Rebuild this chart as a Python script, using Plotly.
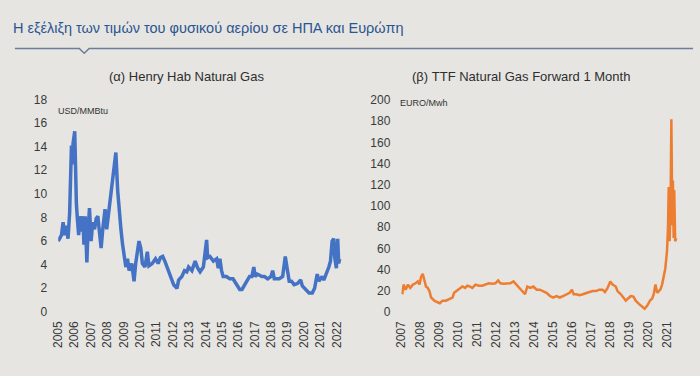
import plotly.graph_objects as go

# ---------------- data (decimal-year positions on the chart's year axis) ----------------
hh_x = [2005.00, 2005.20, 2005.30, 2005.40, 2005.50, 2005.60, 2005.70, 2005.77, 2005.81, 2005.87,
        2005.91, 2006.01, 2006.05, 2006.11, 2006.17, 2006.25, 2006.31, 2006.41, 2006.51, 2006.57,
        2006.65, 2006.75, 2006.81, 2006.91, 2007.01, 2007.11, 2007.22, 2007.32, 2007.42, 2007.52,
        2007.62, 2007.72, 2007.86, 2007.96, 2008.12, 2008.28, 2008.42, 2008.52, 2008.63, 2008.73,
        2008.83, 2008.93, 2009.03, 2009.13, 2009.23, 2009.33, 2009.49, 2009.63, 2009.73, 2009.83,
        2009.93, 2010.04, 2010.14, 2010.30, 2010.44, 2010.54, 2010.74, 2010.94, 2011.10, 2011.24,
        2011.38, 2011.51, 2011.65, 2011.85, 2012.05, 2012.25, 2012.35, 2012.55, 2012.71, 2012.85,
        2012.96, 2013.16, 2013.36, 2013.52, 2013.66, 2013.86, 2014.06, 2014.12, 2014.26, 2014.47,
        2014.67, 2014.77, 2014.87, 2014.97, 2015.07, 2015.27, 2015.47, 2015.67, 2015.88, 2016.08,
        2016.22, 2016.38, 2016.54, 2016.68, 2016.82, 2016.94, 2017.02, 2017.15, 2017.29, 2017.43,
        2017.59, 2017.79, 2017.99, 2018.09, 2018.19, 2018.35, 2018.49, 2018.70, 2018.86, 2018.96,
        2019.10, 2019.24, 2019.40, 2019.60, 2019.80, 2019.90, 2020.11, 2020.31, 2020.51, 2020.65,
        2020.81, 2020.91, 2021.01, 2021.11, 2021.21, 2021.37, 2021.52, 2021.62, 2021.72, 2021.82,
        2021.88, 2021.98, 2022.06, 2022.12, 2022.18]
hh_y = [6.0, 6.5, 7.6, 6.5, 7.3, 6.2, 8.4, 11.1, 14.1, 12.5,
        14.3, 15.3, 12.5, 9.2, 7.9, 6.5, 8.1, 6.8, 8.1, 5.7,
        8.1, 4.2, 6.5, 8.8, 6.0, 7.6, 7.0, 7.9, 8.1, 6.8,
        5.4, 7.0, 8.7, 7.0, 8.9, 10.6, 12.5, 13.5, 10.3, 8.1,
        7.0, 5.7, 4.6, 3.8, 4.5, 3.5, 4.1, 2.6, 4.1, 5.0,
        6.0, 5.4, 4.1, 3.8, 5.1, 3.9, 4.1, 4.5, 4.1, 4.6,
        4.7, 4.3, 3.8, 3.0, 2.3, 2.0, 2.7, 3.0, 3.5, 3.4,
        3.8, 3.5, 4.3, 3.7, 3.4, 3.8, 6.1, 4.6, 4.7, 4.3,
        4.5, 3.7, 4.5, 3.5, 3.0, 3.0, 2.8, 2.8, 2.4, 1.9,
        1.9, 2.3, 2.8, 3.0, 3.0, 3.8, 3.0, 3.2, 3.1, 3.0,
        3.0, 2.8, 3.0, 3.5, 2.8, 2.8, 2.8, 3.0, 4.7, 3.8,
        2.6, 2.6, 2.3, 2.4, 2.7, 2.2, 1.9, 1.6, 1.6, 2.0,
        3.2, 2.6, 2.8, 3.0, 2.7, 3.2, 3.8, 4.3, 6.0, 6.2,
        4.6, 3.7, 6.2, 4.1, 4.5]

ttf_x = [2007.05, 2007.12, 2007.23, 2007.35, 2007.47, 2007.61, 2007.75, 2007.87, 2007.96, 2008.04,
         2008.13, 2008.22, 2008.30, 2008.39, 2008.48, 2008.57, 2008.74, 2008.91, 2009.03, 2009.17,
         2009.35, 2009.52, 2009.70, 2009.78, 2009.90, 2010.04, 2010.22, 2010.36, 2010.48, 2010.60,
         2010.74, 2010.91, 2011.09, 2011.26, 2011.43, 2011.61, 2011.78, 2011.96, 2012.10, 2012.22,
         2012.39, 2012.57, 2012.74, 2012.91, 2013.00, 2013.17, 2013.35, 2013.52, 2013.64, 2013.78,
         2013.96, 2014.13, 2014.30, 2014.48, 2014.65, 2014.83, 2015.00, 2015.17, 2015.35, 2015.52,
         2015.70, 2015.87, 2015.99, 2016.08, 2016.22, 2016.39, 2016.57, 2016.74, 2016.91, 2017.09,
         2017.26, 2017.43, 2017.61, 2017.73, 2017.87, 2018.01, 2018.13, 2018.30, 2018.39, 2018.57,
         2018.70, 2018.83, 2018.95, 2019.09, 2019.23, 2019.35, 2019.52, 2019.70, 2019.82, 2019.96,
         2020.10, 2020.22, 2020.30, 2020.39, 2020.48, 2020.57, 2020.65, 2020.74, 2020.83, 2020.91,
         2021.00, 2021.05, 2021.09, 2021.14, 2021.19, 2021.23, 2021.28, 2021.31, 2021.35, 2021.38,
         2021.43, 2021.49]
ttf_y = [16.7, 25.8, 21.0, 25.8, 22.7, 25.8, 27.0, 28.8, 25.8, 33.0,
         36.0, 30.0, 24.0, 22.7, 19.7, 13.6, 10.6, 9.1, 8.2, 10.6,
         10.6, 12.0, 13.6, 18.0, 19.7, 21.0, 24.0, 22.7, 24.8, 24.0,
         22.7, 25.8, 24.8, 24.8, 25.8, 27.0, 26.7, 27.0, 29.7, 27.0,
         26.7, 26.7, 27.0, 28.8, 27.0, 24.0, 19.7, 16.7, 24.0, 22.7,
         24.0, 21.0, 21.0, 19.7, 18.0, 15.0, 13.6, 15.0, 13.6, 15.0,
         16.7, 18.0, 21.0, 16.7, 16.7, 15.8, 16.7, 18.0, 18.8, 19.7,
         19.7, 21.0, 21.0, 18.8, 22.7, 28.8, 25.8, 24.0, 19.7, 16.7,
         13.6, 10.6, 12.7, 15.0, 14.5, 10.6, 7.6, 4.5, 3.0, 6.0,
         10.6, 12.7, 16.7, 25.8, 18.0, 19.7, 21.0, 25.8, 33.0, 41.0,
         57.6, 78.8, 118.0, 66.7, 106.0, 182.0, 81.8, 124.0, 69.7, 115.0,
         66.7, 69.7]

hh_ticks = list(range(2005, 2023))
ttf_ticks = list(range(2007, 2022))
hh_yticks = list(range(0, 19, 2))
ttf_yticks = list(range(0, 201, 20))

title_text = "Η εξέλιξη των τιμών του φυσικού αερίου σε ΗΠΑ και Ευρώπη"
sub_a = "(α) Henry Hab Natural Gas"
sub_b = "(β) TTF Natural Gas Forward 1 Month"
unit_a = "USD/MMBtu"
unit_b = "EURO/Mwh"

# ---------------- figure ----------------
W, H = 700, 376
BG = "#e6e5e1"
TXT = "#3a3a3a"
FONT = "Liberation Sans, Arial, sans-serif"

def px(x):
    return x / W

def py(y):
    return 1 - y / H

fig = go.Figure()
fig.add_trace(go.Scatter(x=hh_x, y=hh_y, mode="lines", xaxis="x", yaxis="y",
                         line=dict(color="#4472c4", width=3.5), showlegend=False,
                         hoverinfo="skip"))
fig.add_trace(go.Scatter(x=ttf_x, y=ttf_y, mode="lines", xaxis="x2", yaxis="y2",
                         line=dict(color="#ed7d31", width=2.5), showlegend=False,
                         hoverinfo="skip"))

l_x0, l_x1 = 51.7, 340
r_x0, r_x1 = 398.3, 680
ax_common = dict(showgrid=False, zeroline=False, showline=False, ticks="",
                 tickfont=dict(family=FONT, size=12, color=TXT))

fig.update_layout(
    width=W, height=H,
    margin=dict(l=0, r=0, t=0, b=0),
    paper_bgcolor=BG, plot_bgcolor=BG,
    font=dict(family=FONT, color=TXT),
    xaxis=dict(domain=[px(l_x0), px(l_x1)],
               range=[2005, 2005 + (l_x1 - l_x0) / 16.55],
               tickvals=hh_ticks, ticktext=[str(t) for t in hh_ticks],
               tickangle=-90, anchor="y", ticklabelstandoff=6, **ax_common),
    yaxis=dict(domain=[py(316.7), py(96)], range=[0, 18],
               tickvals=hh_yticks, anchor="x", ticklabelstandoff=10, **ax_common),
    xaxis2=dict(domain=[px(r_x0), px(r_x1)],
                range=[2007, 2007 + (r_x1 - r_x0) / 19.17],
                tickvals=ttf_ticks, ticktext=[str(t) for t in ttf_ticks],
                tickangle=-90, anchor="y2", ticklabelstandoff=6, **ax_common),
    yaxis2=dict(domain=[py(316.7), py(96.7)], range=[0, 200],
                tickvals=ttf_yticks, anchor="x2", ticklabelstandoff=10, **ax_common),
)

ann = [
    dict(text=title_text, x=px(4), y=py(22), xanchor="left", yanchor="middle",
         font=dict(family="Liberation Sans Narrow, Liberation Sans, Arial", size=14.5, color="#2b5592")),
    dict(text=sub_a, x=px(181), y=py(72), xanchor="center", yanchor="middle",
         font=dict(family=FONT, size=13, color="#2e2e2e")),
    dict(text=sub_b, x=px(519), y=py(72), xanchor="center", yanchor="middle",
         font=dict(family=FONT, size=13, color="#2e2e2e")),
    dict(text=unit_a, x=px(49), y=py(108), xanchor="left", yanchor="middle",
         font=dict(family=FONT, size=9, color="#333333")),
    dict(text=unit_b, x=px(395), y=py(100), xanchor="left", yanchor="middle",
         font=dict(family=FONT, size=9, color="#333333")),
]
for a in ann:
    a.update(xref="paper", yref="paper", showarrow=False)
fig.update_layout(annotations=ann)

# header rule with a small notch
fig.add_shape(type="path", xref="paper", yref="paper",
              path=f"M {px(8)},{py(43)} L {px(73)},{py(43)} L {px(78)},{py(48)} L {px(83)},{py(43)} L {px(693)},{py(43)}",
              line=dict(color="#6d7d96", width=1.5))

fig.write_html("out.html",
               config={"displayModeBar": False, "staticPlot": True},
               post_script="document.body.style.margin='0';document.body.style.background='#e6e5e1';")
